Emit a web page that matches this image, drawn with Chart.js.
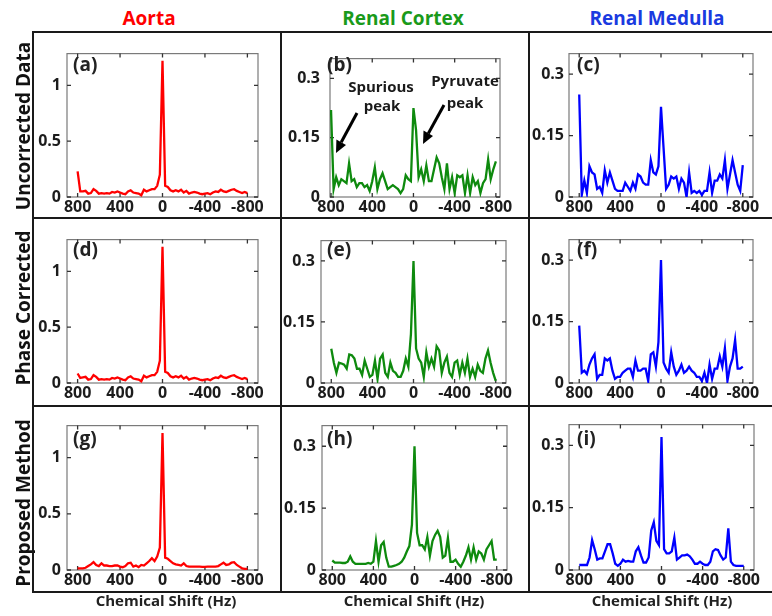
<!DOCTYPE html>
<html>
<head>
<meta charset="utf-8">
<script src="https://cdn.jsdelivr.net/npm/chart.js@4.4.1/dist/chart.umd.min.js"></script>
<style>
  html, body { margin:0; padding:0; background:#fff; }
  body { width:772px; height:616px; position:relative; overflow:hidden; font-family:'Open Sans', sans-serif; }
  .t { position:absolute; font-family:'Open Sans', sans-serif; font-weight:700; line-height:1; white-space:nowrap; }
  .c { transform:translateX(-50%); }
  .r { transform:translate(-50%,-50%) rotate(-90deg); }
  svg { position:absolute; left:0; top:0; pointer-events:none; }
</style>
</head>
<body>
<script>
// ---------------- DATA ----------------
const shiftHz = [800,775,750,725,700,675,650,625,600,575,550,525,500,475,450,425,400,375,350,325,300,275,250,225,200,175,150,125,100,75,50,25,0,-25,-50,-75,-100,-125,-150,-175,-200,-225,-250,-275,-300,-325,-350,-375,-400,-425,-450,-475,-500,-525,-550,-575,-600,-625,-650,-675,-700,-725,-750,-775,-800];

const xTickLabels = [800, 400, 0, -400, -800];
const aortaYTicks = [0, 0.5, 1];
const kidneyYTicks = [0, 0.15, 0.3];

const columns = ['Aorta', 'Renal Cortex', 'Renal Medulla'];
const rows = ['Uncorrected Data', 'Phase Corrected', 'Proposed Method'];
const panelLetters = ['(a)','(b)','(c)','(d)','(e)','(f)','(g)','(h)','(i)'];

// Row 1: uncorrected data
const aortaUncorrected = [0.23,0.05,0.05,0.055,0.03,0.035,0.07,0.055,0.03,0.035,0.03,0.035,0.03,0.045,0.04,0.05,0.04,0.03,0.025,0.05,0.06,0.04,0.035,0.03,0.015,0.065,0.05,0.06,0.07,0.07,0.10,0.2,1.22,0.10,0.09,0.06,0.05,0.06,0.05,0.065,0.04,0.055,0.03,0.04,0.045,0.04,0.03,0.025,0.03,0.035,0.025,0.04,0.05,0.045,0.065,0.05,0.045,0.055,0.065,0.07,0.055,0.045,0.035,0.045,0.035];
const cortexUncorrected = [0.22,0.02,0.05,0.03,0.045,0.04,0.035,0.085,0.04,0.045,0.025,0.035,0.035,0.025,0.03,0.015,0.04,0.075,0.02,0.045,0.06,0.04,0.02,0.025,0.03,0.025,0.02,0.01,0.02,0.055,0.045,0.04,0.225,0.17,0.05,0.07,0.04,0.08,0.04,0.04,0.07,0.1,0.085,0.05,0.02,0.085,0.02,0.05,0.01,0.055,0.05,0.055,0.01,0.055,0.01,0.05,0.03,0.04,0.01,0.035,0.045,0.095,0.045,0.07,0.09];
const medullaUncorrected = [0.25,0.005,0.04,0.01,0.075,0.06,0.055,0.02,0.025,0.01,0.065,0.035,0.06,0.04,0.02,0.015,0.015,0.015,0.035,0.025,0.015,0.035,0.02,0.055,0.05,0.035,0.03,0.03,0.09,0.06,0.055,0.075,0.22,0.12,0.02,0.03,0.05,0.045,0.05,0.02,0.045,0.035,0.0,0.06,0.01,0.015,0.01,0.015,0.005,0.015,0.015,0.06,0.01,0.04,0.04,0.055,0.045,0.09,0.02,0.055,0.09,0.06,0.03,0.015,0.078];

// Row 2: phase corrected
const aortaPhase = [0.085,0.045,0.05,0.055,0.03,0.035,0.07,0.055,0.03,0.035,0.03,0.035,0.03,0.045,0.04,0.05,0.04,0.03,0.025,0.05,0.06,0.04,0.035,0.03,0.015,0.065,0.05,0.06,0.07,0.07,0.10,0.2,1.22,0.10,0.09,0.06,0.05,0.06,0.05,0.065,0.04,0.055,0.03,0.04,0.045,0.04,0.03,0.025,0.03,0.035,0.025,0.04,0.05,0.045,0.065,0.05,0.045,0.055,0.065,0.07,0.055,0.045,0.035,0.045,0.035];
const cortexPhase = [0.084,0.05,0.025,0.05,0.048,0.045,0.035,0.07,0.068,0.06,0.035,0.035,0.02,0.055,0.035,0.015,0.02,0.055,0.01,0.06,0.07,0.025,0.015,0.05,0.03,0.025,0.015,0.015,0.03,0.06,0.04,0.12,0.30,0.085,0.06,0.05,0.015,0.075,0.04,0.06,0.04,0.09,0.08,0.025,0.05,0.065,0.025,0.015,0.05,0.055,0.02,0.05,0.025,0.06,0.015,0.035,0.015,0.045,0.03,0.025,0.06,0.08,0.05,0.025,0.005];
const medullaPhase = [0.14,0.025,0.03,0.022,0.045,0.06,0.07,0.01,0.02,0.02,0.06,0.055,0.06,0.03,0.01,0.015,0.015,0.025,0.03,0.035,0.035,0.015,0.055,0.03,0.03,0.035,0.035,0.005,0.07,0.075,0.04,0.1,0.3,0.05,0.035,0.025,0.075,0.04,0.02,0.03,0.045,0.025,0.03,0.04,0.03,0.025,0.015,0.015,0.005,0.025,0.0,0.045,0.01,0.035,0.035,0.065,0.04,0.085,0.005,0.04,0.06,0.105,0.035,0.035,0.04];

// Row 3: proposed method
const aortaProposed = [0.015,0.015,0.015,0.02,0.035,0.05,0.07,0.045,0.035,0.06,0.04,0.04,0.035,0.035,0.04,0.04,0.03,0.025,0.035,0.06,0.065,0.03,0.04,0.025,0.045,0.04,0.06,0.08,0.105,0.08,0.12,0.2,1.22,0.11,0.1,0.08,0.06,0.05,0.045,0.04,0.06,0.035,0.03,0.03,0.03,0.03,0.03,0.028,0.028,0.03,0.03,0.03,0.03,0.035,0.05,0.065,0.045,0.05,0.065,0.07,0.045,0.03,0.015,0.01,0.01];
const cortexProposed = [0.023,0.018,0.018,0.018,0.017,0.017,0.02,0.033,0.02,0.015,0.015,0.015,0.015,0.015,0.017,0.015,0.02,0.07,0.02,0.06,0.068,0.03,0.008,0.008,0.01,0.012,0.015,0.02,0.03,0.045,0.058,0.11,0.3,0.09,0.06,0.06,0.05,0.08,0.035,0.07,0.085,0.095,0.08,0.03,0.035,0.078,0.02,0.02,0.025,0.015,0.008,0.02,0.035,0.055,0.025,0.055,0.025,0.045,0.04,0.025,0.05,0.06,0.07,0.025,0.025];
const medullaProposed = [0.012,0.012,0.012,0.012,0.03,0.072,0.05,0.025,0.028,0.028,0.045,0.062,0.062,0.04,0.015,0.01,0.015,0.025,0.02,0.022,0.02,0.02,0.045,0.055,0.035,0.018,0.018,0.03,0.095,0.115,0.07,0.06,0.32,0.05,0.04,0.04,0.045,0.078,0.025,0.03,0.035,0.035,0.037,0.033,0.025,0.015,0.015,0.02,0.015,0.012,0.012,0.02,0.045,0.05,0.048,0.035,0.025,0.03,0.1,0.02,0.012,0.01,0.01,0.01,0.01];

// ---------------- STYLE / LAYOUT ----------------
const RED = '#ff0000', GREEN = '#0e8a0e', BLUE = '#0000ff';
const FONT = "'Open Sans', sans-serif";

const panels = [
  {values: aortaUncorrected,   color: RED,   rect:[67,46,258,197],  xr:[-900,900], yMax:1.285, yTicks:aortaYTicks,  pad:6},
  {values: cortexUncorrected,  color: GREEN, rect:[330,47,500,197], xr:[-840,810], yMax:0.35,  yTicks:kidneyYTicks, pad:10},
  {values: medullaUncorrected, color: BLUE,  rect:[569,47,753,197], xr:[-900,900], yMax:0.35,  yTicks:kidneyYTicks, pad:5},
  {values: aortaPhase,         color: RED,   rect:[67,232,258,383], xr:[-900,900], yMax:1.285, yTicks:aortaYTicks,  pad:6},
  {values: cortexPhase,        color: GREEN, rect:[321,233,506,383],xr:[-900,900], yMax:0.35,  yTicks:kidneyYTicks, pad:6},
  {values: medullaPhase,       color: BLUE,  rect:[569,233,753,383],xr:[-900,900], yMax:0.35,  yTicks:kidneyYTicks, pad:5},
  {values: aortaProposed,      color: RED,   rect:[67,418,258,570], xr:[-900,900], yMax:1.285, yTicks:aortaYTicks,  pad:6},
  {values: cortexProposed,     color: GREEN, rect:[322,418,507,570],xr:[-900,900], yMax:0.35,  yTicks:kidneyYTicks, pad:6},
  {values: medullaProposed,    color: BLUE,  rect:[569,418,754,570],xr:[-900,900], yMax:0.35,  yTicks:kidneyYTicks, pad:5}
];

const framePlugin = {
  id: 'frame',
  beforeDatasetsDraw(chart) {
    const {ctx, chartArea: a, scales: {x, y}} = chart;
    ctx.save();
    ctx.strokeStyle = '#7a7a7a';
    ctx.lineWidth = 1.2;
    ctx.strokeRect(a.left, a.top, a.right - a.left, a.bottom - a.top);
    ctx.strokeStyle = '#333';
    ctx.lineWidth = 1.3;
    ctx.beginPath();
    x.ticks.forEach(t => {
      const px = x.getPixelForValue(t.value);
      ctx.moveTo(px, a.bottom); ctx.lineTo(px, a.bottom - 4);
      ctx.moveTo(px, a.top); ctx.lineTo(px, a.top + 4);
    });
    y.ticks.forEach(t => {
      const py = y.getPixelForValue(t.value);
      ctx.moveTo(a.left, py); ctx.lineTo(a.left + 4, py);
      ctx.moveTo(a.right, py); ctx.lineTo(a.right - 4, py);
    });
    ctx.stroke();
    ctx.restore();
  }
};

const ML = 50, MT = 8, MR = 18, MB = 28;
panels.forEach(p => {
  const [L, T, R, B] = p.rect;
  const cv = document.createElement('canvas');
  cv.width = R - L + ML + MR;
  cv.height = B - T + MT + MB;
  cv.style.cssText = `position:absolute;left:${L - ML}px;top:${T - MT}px;width:${cv.width}px;height:${cv.height}px;`;
  document.body.appendChild(cv);
  const tickFont = {family: FONT, weight: 'bold', size: 16};
  new Chart(cv, {
    type: 'line',
    data: {
      datasets: [{
        data: shiftHz.map((x, i) => ({x: x, y: p.values[i]})),
        borderColor: p.color,
        borderWidth: 2.3,
        pointRadius: 0,
        tension: 0,
        fill: false
      }]
    },
    options: {
      responsive: false,
      animation: false,
      devicePixelRatio: 1,
      layout: {padding: {top: MT, right: MR, left: 0, bottom: 0}},
      plugins: {legend: {display: false}, tooltip: {enabled: false}},
      scales: {
        x: {
          type: 'linear', reverse: true, min: p.xr[0], max: p.xr[1],
          afterBuildTicks: s => { s.ticks = xTickLabels.map(v => ({value: v})); },
          afterFit: s => { s.height = MB; },
          grid: {display: false, drawTicks: false},
          border: {display: false},
          ticks: {autoSkip: false, maxRotation: 0, minRotation: 0, padding: 1, color: '#1c1c1c', font: tickFont, callback: v => String(v)}
        },
        y: {
          type: 'linear', min: 0, max: p.yMax,
          afterBuildTicks: s => { s.ticks = p.yTicks.map(v => ({value: v})); },
          afterFit: s => { s.width = ML; },
          grid: {display: false, drawTicks: false},
          border: {display: false},
          ticks: {padding: p.pad, color: '#1c1c1c', font: tickFont, callback: v => String(v)}
        }
      }
    },
    plugins: [framePlugin]
  });
});

// ---------------- TEXT ----------------
function addText(txt, cls, css) {
  const d = document.createElement('div');
  d.className = 't ' + cls;
  d.textContent = txt;
  d.style.cssText = css;
  document.body.appendChild(d);
}
const colColors = ['#ff0000', '#1a9a1a', '#1a3ae0'];
const colCenters = [149, 403, 657];
columns.forEach((c, i) => addText(c, 'c', `left:${colCenters[i]}px;top:9.2px;font-size:19px;color:${colColors[i]};`));
const rowCenters = [126, 308, 503];
rows.forEach((r, i) => addText(r, 'r', `left:22.5px;top:${rowCenters[i]}px;font-size:19px;color:#111;`));
const axCenters = [166, 414, 662];
axCenters.forEach(cx => addText('Chemical Shift (Hz)', 'c', `left:${cx}px;top:593px;font-size:15px;color:#222;`));
const letterX = [73, 327, 577];
const letterTop = [55, 240, 429];
panelLetters.forEach((l, i) => addText(l, '', `left:${letterX[i % 3]}px;top:${letterTop[Math.floor(i / 3)]}px;font-size:19px;color:#222;`));
addText('Spurious', 'c', 'left:381px;top:78.5px;font-size:15px;color:#1a1a1a;');
addText('peak', 'c', 'left:382px;top:97.5px;font-size:15px;color:#1a1a1a;');
addText('Pyruvate', 'c', 'left:465px;top:73px;font-size:15px;color:#1a1a1a;');
addText('peak', 'c', 'left:465px;top:94.5px;font-size:15px;color:#1a1a1a;');
</script>
<svg width="772" height="616" viewBox="0 0 772 616">
  <g stroke="#1a1a1a" stroke-width="2" fill="none">
    <line x1="32" y1="32" x2="772" y2="32"/>
    <line x1="32" y1="218" x2="772" y2="218"/>
    <line x1="32" y1="406" x2="772" y2="406"/>
    <line x1="32" y1="592" x2="772" y2="592"/>
    <line x1="33" y1="31" x2="33" y2="593"/>
    <line x1="281" y1="31" x2="281" y2="593"/>
    <line x1="529" y1="31" x2="529" y2="593"/>
  </g>
  <g stroke="#000" stroke-width="3">
    <line x1="357" y1="113" x2="341.2" y2="142.3"/>
    <line x1="444" y1="105" x2="428.3" y2="133.4"/>
  </g>
  <g fill="#000">
    <polygon points="336,153 346,145 336.4,139.6"/>
    <polygon points="423,144 433,136 423.5,130.6"/>
  </g>
</svg>
</body>
</html>
